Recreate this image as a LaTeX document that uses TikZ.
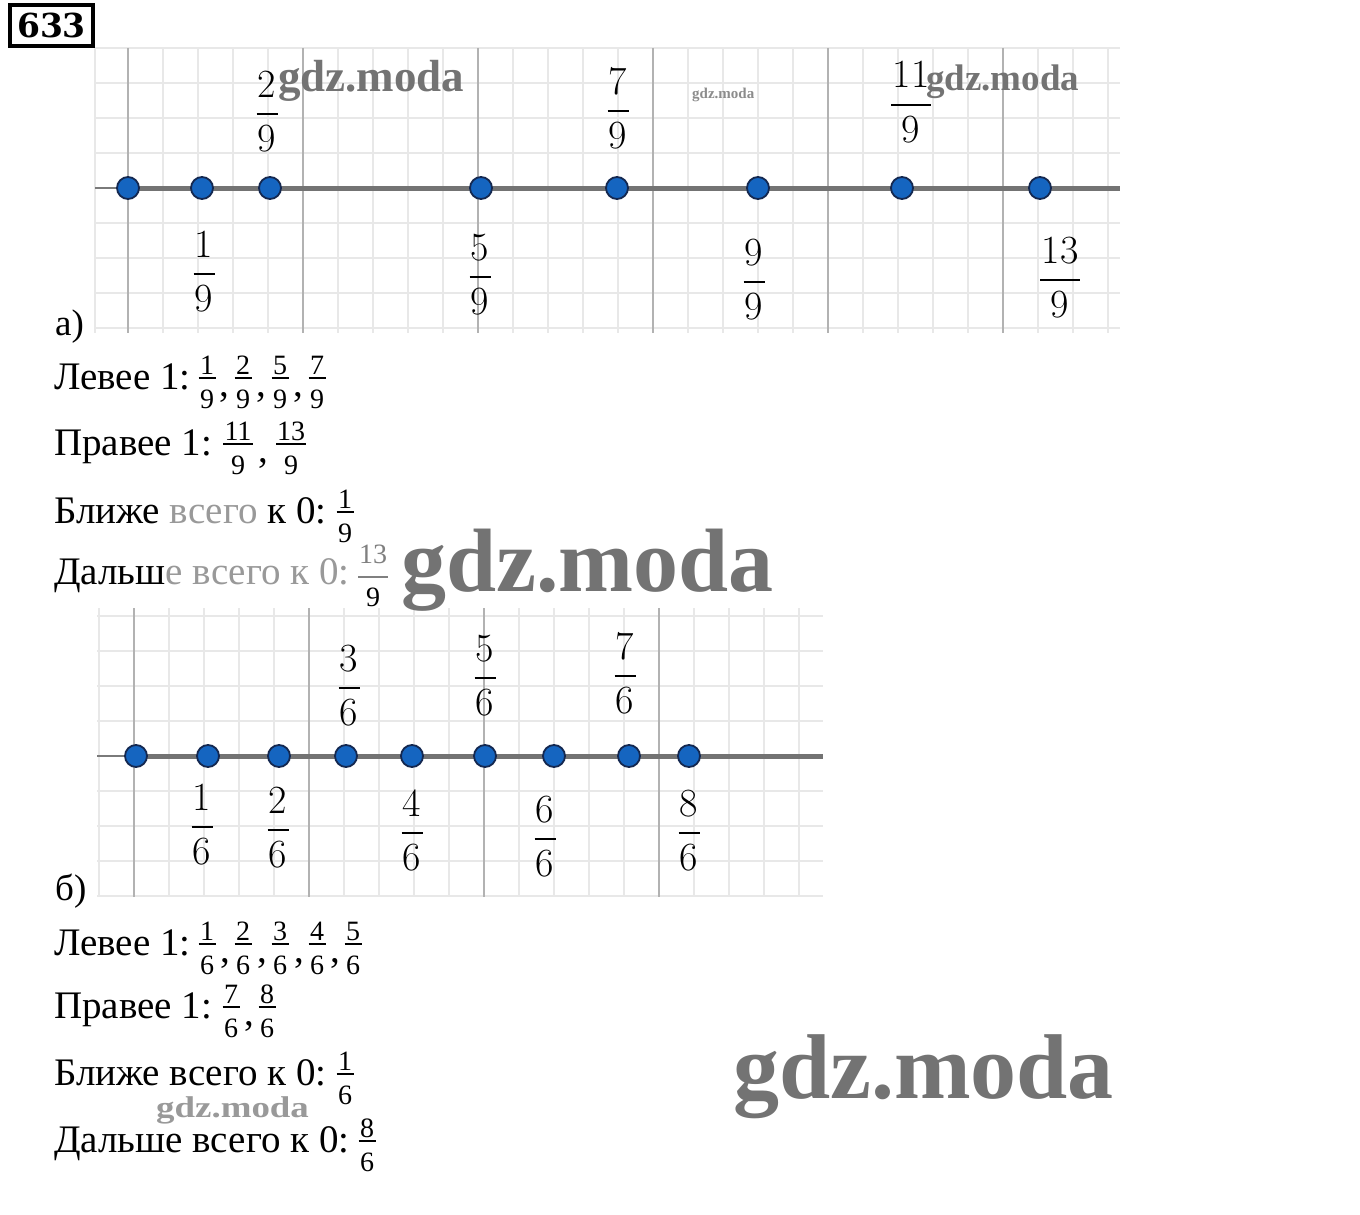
\documentclass[tikz,border=0pt]{standalone}
\usepackage{fontspec}
\newfontfamily\tnr{Liberation Serif}
\newfontfamily\dvs{DejaVu Serif}
\definecolor{dotblue}{RGB}{21,101,192}
\definecolor{dotedge}{RGB}{20,40,80}
\tikzset{
 minorline/.style={draw=black!9, line width=1.6},
 majorline/.style={draw=black!30, line width=2},
 axisthin/.style={draw=black!52, line width=1.5},
 axisthick/.style={draw=black!55, line width=5},
 dot/.style={circle, minimum size=22, inner sep=0, fill=dotblue, draw=dotedge, line width=1.8},
 axlab/.style={inner sep=0, anchor=base, font=\fontsize{40}{48}\selectfont},
 axbar/.style={line width=1.6},
 anstext/.style={inner sep=0, font=\tnr\fontsize{39}{47}\selectfont, anchor=base west},
 ansdig/.style={inner sep=0, font=\tnr\fontsize{28}{33}\selectfont, anchor=base},
 ansbar/.style={line width=2.2},
 wm/.style={inner sep=0, anchor=base west, text=black!55},
}
% {name}{x}{bar y}{num}{den}{halfwidth}
\newcommand\axfr[6]{%
 \node[axlab] (#1n) at (#2,{#3-17}) {#4};
 \node[axlab] (#1d) at (#2,{#3+37.4}) {#5};
 \draw[axbar] ({#2-#6},#3) -- ({#2+#6},#3);}
% [color]{name}{x}{baseline}{num}{den}{halfwidth}
\newcommand\anfr[7][black]{%
 \node[ansdig, text=#1] (#2n) at (#3,{#4-15}) {#5};
 \node[ansdig, text=#1] (#2d) at (#3,{#4+19}) {#6};
 \draw[ansbar, draw=#1] ({#3-#7},{#4-11}) -- ({#3+#7},{#4-11});}
\newcommand\acomma[3]{\node[anstext, anchor=base] (#1) at (#2,{#3+7}) {,};}
\begin{document}
\begin{tikzpicture}[x=1pt,y=-1pt]
\fill[white] (0,0) rectangle (1360,1215);
\useasboundingbox (0,0) rectangle (1360,1215);
% number box
\node[draw, line width=4, minimum width=83, minimum height=41, inner sep=0,
      font=\dvs\bfseries\fontsize{33}{40}\selectfont] (num) at (51.5,25.5) {633};
% ---------- grid a ----------
\foreach \k in {0,...,28} \draw[minorline] ({128+35*\k},48) -- ({128+35*\k},333);
\draw[minorline] (95,48) -- (95,333);
\foreach \k in {-4,...,4} \draw[minorline] (95,{188+35*\k}) -- (1120,{188+35*\k});
\foreach \k in {0,...,5} \draw[majorline] ({128+175*\k},48) -- ({128+175*\k},333);
\coordinate (aL) at (95,188);
\coordinate (aS) at (128,188);
\coordinate (aR) at (1120,188);
\draw[axisthin] (aL) -- (aS);
\draw[axisthick] (aS) -- (aR);
\foreach \x/\n in {128/0,202/1,270/2,481/5,617/7,758/9,902/11,1040/13}
  \node[dot] (a\n) at (\x,188) {};
\axfr{fa1}{204}{274}{1}{9}{10.5}
\axfr{fa2}{267}{114}{2}{9}{10.5}
\axfr{fa5}{480}{277}{5}{9}{10.5}
\axfr{fa7}{618}{111}{7}{9}{10.5}
\axfr{fa9}{754}{282}{9}{9}{10.5}
\axfr{fa11}{911}{105}{11}{9}{20}
\axfr{fa13}{1060}{280}{13}{9}{20}
\node[anstext, font=\tnr\fontsize{37}{44}\selectfont] (la) at (55,335) {а)};
% answers a
\node[anstext] (aT1) at (54,389) {Левее 1:};
\anfr{aA1}{207}{389}{1}{9}{8.5}
\acomma{aC1}{224}{389}
\anfr{aA2}{243}{389}{2}{9}{8.5}
\acomma{aC2}{261}{389}
\anfr{aA5}{280}{389}{5}{9}{8.5}
\acomma{aC3}{298}{389}
\anfr{aA7}{317}{389}{7}{9}{8.5}
\node[anstext] (aT2) at (54,455) {Правее 1:};
\anfr{aB11}{238}{455}{11}{9}{15}
\acomma{aC4}{263}{455}
\anfr{aB13}{291}{455}{13}{9}{15}
\node[anstext] (aT3) at (54,523) {Ближе \textcolor{black!40}{всего} к 0:};
\anfr{aD1}{345}{523}{1}{9}{8.5}
\node[anstext] (aT4) at (54,584) {Дальш\textcolor{black!40}{е всего к 0:}};
\node[ansdig, text=black!50] (aE13n) at (373,563) {13};
\node[ansdig] (aE13d) at (373,606) {9};
\draw[ansbar, draw=black!50] (358,577) -- (388,577);
% ---------- grid b ----------
\foreach \k in {-1,...,19} \draw[minorline] ({134+35*\k},608) -- ({134+35*\k},897);
\foreach \k in {-4,...,4} \draw[minorline] (97,{756+35*\k}) -- (823,{756+35*\k});
\foreach \k in {0,...,3} \draw[majorline] ({134+175*\k},608) -- ({134+175*\k},897);
\coordinate (bL) at (97,756);
\coordinate (bS) at (136,756);
\coordinate (bR) at (823,756);
\draw[axisthin] (bL) -- (bS);
\draw[axisthick] (bS) -- (bR);
\foreach \x/\n in {136/0,208/1,279/2,346/3,412/4,485/5,554/6,629/7,689/8}
  \node[dot] (b\n) at (\x,756) {};
\axfr{fb1}{202}{827}{1}{6}{10.5}
\axfr{fb2}{278}{830}{2}{6}{10.5}
\axfr{fb3}{349}{688}{3}{6}{10.5}
\axfr{fb4}{412}{833}{4}{6}{10.5}
\axfr{fb5}{485}{678}{5}{6}{10.5}
\axfr{fb6}{545}{839}{6}{6}{10.5}
\axfr{fb7}{625}{676}{7}{6}{10.5}
\axfr{fb8}{689}{833}{8}{6}{10.5}
\node[anstext, font=\tnr\fontsize{37}{44}\selectfont] (lb) at (55,900) {б)};
% answers b
\node[anstext] (bT1) at (54,955) {Левее 1:};
\anfr{bA1}{207}{955}{1}{6}{8.5}
\acomma{bC1}{225}{955}
\anfr{bA2}{243}{955}{2}{6}{8.5}
\acomma{bC2}{262}{955}
\anfr{bA3}{280}{955}{3}{6}{8.5}
\acomma{bC3}{299}{955}
\anfr{bA4}{317}{955}{4}{6}{8.5}
\acomma{bC4}{335}{955}
\anfr{bA5}{353}{955}{5}{6}{8.5}
\node[anstext] (bT2) at (54,1018) {Правее 1:};
\anfr{bB7}{231}{1018}{7}{6}{8.5}
\acomma{bC5}{249}{1018}
\anfr{bB8}{267}{1018}{8}{6}{8.5}
\node[anstext] (bT3) at (54,1085) {Ближе всего к 0:};
\anfr{bD1}{345}{1085}{1}{6}{8.5}
\node[anstext] (bT4) at (54,1152) {Дальше всего к 0:};
\anfr{bE8}{367}{1152}{8}{6}{8.5}
% ---------- watermarks ----------
\node[wm, font=\tnr\bfseries\fontsize{45}{50}\selectfont] (w1) at (278,92) {gdz.moda};
\node[wm, text=black!45, font=\tnr\bfseries\fontsize{15}{18}\selectfont] (w2) at (692,99) {gdz.moda};
\node[wm, font=\tnr\bfseries\fontsize{37}{42}\selectfont] (w3) at (926,90) {gdz.moda};
\node[wm, font=\tnr\bfseries\fontsize{90}{100}\selectfont] (w4) at (401,591) {gdz.moda};
\node[wm, text=black!40, font=\tnr\bfseries\fontsize{30}{34}\selectfont] (w5) at (156,1117) {\scalebox{1.23}[1]{gdz.moda}};
\node[wm, font=\tnr\bfseries\fontsize{92}{100}\selectfont] (w6) at (733,1098) {gdz.moda};
\end{tikzpicture}
\end{document}
